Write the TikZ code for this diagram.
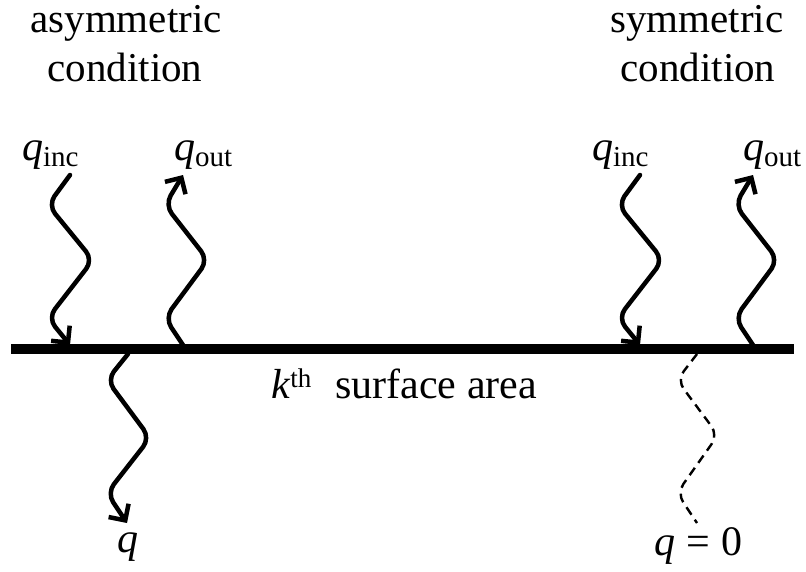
\documentclass[tikz,border=0pt]{standalone}
\usepackage{fontspec}
\setmainfont{Liberation Serif}
\usetikzlibrary{arrows.meta}
\newcommand{\qsub}[1]{\textit{q}\raisebox{-6pt}{\fontsize{29}{30}\selectfont #1}}
\begin{document}
\begin{tikzpicture}[x=1pt,y=-1pt,
  lbl/.style={inner sep=0pt, outer sep=0pt, anchor=base west, font=\fontsize{42}{52}\selectfont},
  ttl/.style={inner sep=0pt, outer sep=0pt, anchor=base, font=\fontsize{41}{50}\selectfont},
  wave/.style={line width=4.5pt, rounded corners=11pt, line cap=round, line join=round},
  arr/.style={wave, -{Straight Barb[length=12pt,width=24pt]}},
  dwave/.style={line width=2.4pt, rounded corners=11pt, dash pattern=on 9pt off 6pt},
  surf/.style={line width=10pt}]
\useasboundingbox (0,0) rectangle (806,571);

% titles
\node[ttl] (t1a) at (126,32) {asymmetric};
\node[ttl] (t1b) at (125,81) {condition};
\node[ttl] (t2a) at (697,32) {symmetric};
\node[ttl] (t2b) at (698,81) {condition};

% surface
\coordinate (sL) at (11,349);
\coordinate (sR) at (794,349);
\draw[surf] (sL) -- (sR);
\node[lbl] (kth) at (271,398) {\textit{k}\raisebox{11pt}{\fontsize{27}{28}\selectfont th}\hspace{24pt}surface area};

% flux labels
\node[lbl] (qinL) at (22,160) {\qsub{inc}};
\node[lbl] (qoutL) at (174,160) {\qsub{out}};
\node[lbl] (qinR) at (592,160) {\qsub{inc}};
\node[lbl] (qoutR) at (743,160) {\qsub{out}};
\node[lbl] (qbot) at (117,552) {\textit{q}};
\node[lbl] (qzero) at (654,555) {\textit{q}\hspace{11pt}=\hspace{12pt}0};

% left side waves
\coordinate (a1) at (70,175);
\coordinate (a2) at (70,345);
\draw[arr] (a1) -- (48,205) -- (93,260) -- (48,318) -- (a2);
\coordinate (b1) at (183,345);
\coordinate (b2) at (183,175);
\draw[arr] (b1) -- (165,318) -- (208,260) -- (165,205) -- (b2);
\coordinate (c1) at (128,354);
\coordinate (c2) at (127,523);
\draw[arr] (c1) -- (107,380) -- (150,438) -- (107,493) -- (c2);

% right side waves
\coordinate (d1) at (640,175);
\coordinate (d2) at (640,345);
\draw[arr] (d1) -- (618,205) -- (663,260) -- (618,318) -- (d2);
\coordinate (e1) at (753,345);
\coordinate (e2) at (753,175);
\draw[arr] (e1) -- (735,318) -- (778,260) -- (735,205) -- (e2);
\coordinate (f1) at (697,354);
\coordinate (f2) at (697,523);
\draw[dwave] (f1) -- (677,380) -- (718,435) -- (677,493) -- (f2);
\end{tikzpicture}
\end{document}
